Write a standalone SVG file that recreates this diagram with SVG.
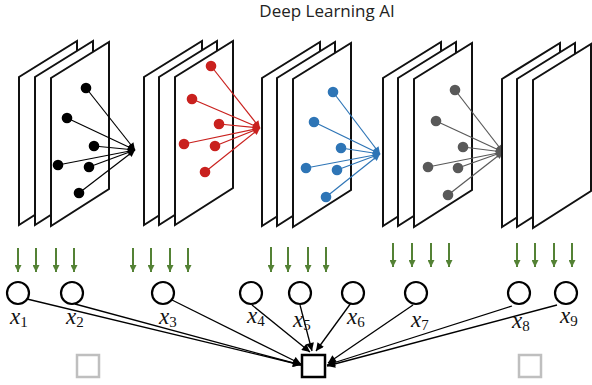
<svg xmlns="http://www.w3.org/2000/svg" width="592" height="385" viewBox="0 0 592 385">
  <defs>
    <style>
      .plane { fill: #ffffff; stroke: #111111; stroke-width: 2; stroke-linejoin: miter; }
      .title { font-family: "Open Sans", "Noto Sans", sans-serif; font-size: 17px; fill: #222222; }
      .lbl { font-family: "Liberation Serif", "DejaVu Serif", serif; font-style: italic; font-size: 23px; fill: #111111; }
      .sub { font-style: normal; font-size: 15px; }
      .node { fill: #ffffff; stroke: #000000; stroke-width: 2.2; }
      .conn { stroke: #000000; stroke-width: 1.3; fill: none; marker-end: url(#ah-black); }
      .feed { stroke: #548235; stroke-width: 2; marker-end: url(#ah-green); }
      .k { stroke: #000000; stroke-width: 1.2; marker-end: url(#tip-k); }
      .r { stroke: #c9211e; stroke-width: 1.2; marker-end: url(#tip-r); }
      .b { stroke: #2e75b6; stroke-width: 1.2; marker-end: url(#tip-b); }
      .g { stroke: #595959; stroke-width: 1.2; marker-end: url(#tip-g); }
    </style>
    <marker id="ah-black" viewBox="0 0 10 10" refX="10" refY="5" markerUnits="userSpaceOnUse" markerWidth="10" markerHeight="8" orient="auto">
      <path d="M0,0 L10,5 L0,10 z" fill="#000000"/>
    </marker>
    <marker id="ah-green" viewBox="0 0 10 10" refX="10" refY="5" markerUnits="userSpaceOnUse" markerWidth="9" markerHeight="7" orient="auto">
      <path d="M0,0 L10,5 L0,10 z" fill="#548235"/>
    </marker>
    <marker id="tip-k" viewBox="0 0 10 10" refX="10" refY="5" markerUnits="userSpaceOnUse" markerWidth="10" markerHeight="7" orient="auto">
      <path d="M0,0 L10,5 L0,10 z" fill="#000000"/>
    </marker>
    <marker id="tip-r" viewBox="0 0 10 10" refX="10" refY="5" markerUnits="userSpaceOnUse" markerWidth="10" markerHeight="7" orient="auto">
      <path d="M0,0 L10,5 L0,10 z" fill="#c9211e"/>
    </marker>
    <marker id="tip-b" viewBox="0 0 10 10" refX="10" refY="5" markerUnits="userSpaceOnUse" markerWidth="10" markerHeight="7" orient="auto">
      <path d="M0,0 L10,5 L0,10 z" fill="#2e75b6"/>
    </marker>
    <marker id="tip-g" viewBox="0 0 10 10" refX="10" refY="5" markerUnits="userSpaceOnUse" markerWidth="10" markerHeight="7" orient="auto">
      <path d="M0,0 L10,5 L0,10 z" fill="#595959"/>
    </marker>
    <!-- one feature-map sheet: a skewed parallelogram -->
    <polygon id="sheet" class="plane" points="0,0 58,-36 58,111 0,148"/>
  </defs>

  <rect width="592" height="385" fill="#ffffff"/>

  <text class="title" x="327" y="17" text-anchor="middle">Deep Learning AI</text>

  <!-- layer 1 -->
  <g id="layer1">
    <use href="#sheet" x="19" y="77"/>
    <use href="#sheet" x="35" y="77"/>
    <use href="#sheet" x="51" y="78"/>
    <g fill="#000000">
      <line class="k" x1="86" y1="88" x2="135" y2="150"/>
      <line class="k" x1="67" y1="118" x2="135" y2="150"/>
      <line class="k" x1="94" y1="146" x2="135" y2="150"/>
      <line class="k" x1="58" y1="165" x2="135" y2="150"/>
      <line class="k" x1="89" y1="167" x2="135" y2="150"/>
      <line class="k" x1="79" y1="193" x2="135" y2="150"/>
      <circle cx="86" cy="88" r="5.3"/>
      <circle cx="67" cy="118" r="5.3"/>
      <circle cx="94" cy="146" r="5.3"/>
      <circle cx="58" cy="165" r="5.3"/>
      <circle cx="89" cy="167" r="5.3"/>
      <circle cx="79" cy="193" r="5.3"/>
    </g>
  </g>

  <!-- layer 2 -->
  <g id="layer2">
    <use href="#sheet" x="144" y="77"/>
    <use href="#sheet" x="159" y="77"/>
    <use href="#sheet" x="175" y="77"/>
    <g fill="#c9211e">
      <line class="r" x1="211" y1="66" x2="260" y2="128"/>
      <line class="r" x1="192" y1="99" x2="260" y2="128"/>
      <line class="r" x1="219" y1="124" x2="260" y2="128"/>
      <line class="r" x1="184" y1="144" x2="260" y2="128"/>
      <line class="r" x1="215" y1="146" x2="260" y2="128"/>
      <line class="r" x1="205" y1="172" x2="260" y2="128"/>
      <circle cx="211" cy="66" r="5.3"/>
      <circle cx="192" cy="99" r="5.3"/>
      <circle cx="219" cy="124" r="5.3"/>
      <circle cx="184" cy="144" r="5.3"/>
      <circle cx="215" cy="146" r="5.3"/>
      <circle cx="205" cy="172" r="5.3"/>
    </g>
  </g>

  <!-- layer 3 -->
  <g id="layer3">
    <use href="#sheet" x="262" y="78"/>
    <use href="#sheet" x="277" y="78"/>
    <use href="#sheet" x="293" y="79"/>
    <g fill="#2e75b6">
      <line class="b" x1="333" y1="92" x2="380" y2="154"/>
      <line class="b" x1="314" y1="122" x2="380" y2="154"/>
      <line class="b" x1="341" y1="148" x2="380" y2="154"/>
      <line class="b" x1="306" y1="168" x2="380" y2="154"/>
      <line class="b" x1="337" y1="170" x2="380" y2="154"/>
      <line class="b" x1="326" y1="197" x2="380" y2="154"/>
      <circle cx="333" cy="92" r="5.3"/>
      <circle cx="314" cy="122" r="5.3"/>
      <circle cx="341" cy="148" r="5.3"/>
      <circle cx="306" cy="168" r="5.3"/>
      <circle cx="337" cy="170" r="5.3"/>
      <circle cx="326" cy="197" r="5.3"/>
    </g>
  </g>

  <!-- layer 4 -->
  <g id="layer4">
    <use href="#sheet" x="383" y="78"/>
    <use href="#sheet" x="398" y="78"/>
    <use href="#sheet" x="414" y="79"/>
    <g fill="#595959">
      <line class="g" x1="455" y1="90" x2="503" y2="152"/>
      <line class="g" x1="436" y1="121" x2="503" y2="152"/>
      <line class="g" x1="463" y1="147" x2="503" y2="152"/>
      <line class="g" x1="428" y1="167" x2="503" y2="152"/>
      <line class="g" x1="458" y1="168" x2="503" y2="152"/>
      <line class="g" x1="448" y1="195" x2="503" y2="152"/>
      <circle cx="455" cy="90" r="5.3"/>
      <circle cx="436" cy="121" r="5.3"/>
      <circle cx="463" cy="147" r="5.3"/>
      <circle cx="428" cy="167" r="5.3"/>
      <circle cx="458" cy="168" r="5.3"/>
      <circle cx="448" cy="195" r="5.3"/>
    </g>
  </g>

  <!-- layer 5 -->
  <g id="layer5">
    <use href="#sheet" x="502" y="79"/>
    <use href="#sheet" x="517" y="79"/>
    <use href="#sheet" x="533" y="80"/>
  </g>

  <!-- feed arrows into the input nodes -->
  <g id="feeds">
    <line class="feed" x1="18" y1="248" x2="18" y2="272"/>
    <line class="feed" x1="36" y1="248" x2="36" y2="272"/>
    <line class="feed" x1="56" y1="248" x2="56" y2="272"/>
    <line class="feed" x1="74" y1="248" x2="74" y2="272"/>
    <line class="feed" x1="133" y1="248" x2="133" y2="272"/>
    <line class="feed" x1="151" y1="248" x2="151" y2="272"/>
    <line class="feed" x1="170" y1="248" x2="170" y2="272"/>
    <line class="feed" x1="188" y1="248" x2="188" y2="272"/>
    <line class="feed" x1="271" y1="247" x2="271" y2="272"/>
    <line class="feed" x1="288" y1="247" x2="288" y2="272"/>
    <line class="feed" x1="308" y1="247" x2="308" y2="272"/>
    <line class="feed" x1="326" y1="247" x2="326" y2="272"/>
    <line class="feed" x1="393" y1="243" x2="393" y2="267"/>
    <line class="feed" x1="412" y1="243" x2="412" y2="267"/>
    <line class="feed" x1="431" y1="243" x2="431" y2="267"/>
    <line class="feed" x1="449" y1="243" x2="449" y2="267"/>
    <line class="feed" x1="517" y1="243" x2="517" y2="267"/>
    <line class="feed" x1="535" y1="243" x2="535" y2="267"/>
    <line class="feed" x1="554" y1="243" x2="554" y2="267"/>
    <line class="feed" x1="572" y1="243" x2="572" y2="267"/>
  </g>

  <!-- connectors from inputs to the output node -->
  <g id="connectors">
    <line class="conn" x1="27" y1="299" x2="301" y2="365"/>
    <line class="conn" x1="75" y1="304" x2="301" y2="365"/>
    <line class="conn" x1="172" y1="300" x2="301" y2="364"/>
    <line class="conn" x1="252" y1="305" x2="310" y2="352"/>
    <line class="conn" x1="300" y1="305" x2="312" y2="351"/>
    <line class="conn" x1="351" y1="303" x2="316" y2="351"/>
    <line class="conn" x1="413" y1="305" x2="328" y2="363"/>
    <line class="conn" x1="512" y1="306" x2="327" y2="365"/>
    <line class="conn" x1="557" y1="305" x2="327" y2="366"/>
  </g>

  <!-- input nodes -->
  <g id="x1"><circle class="node" cx="18" cy="293" r="11"/><text class="lbl" x="10" y="324">x<tspan class="sub" dy="3">1</tspan></text></g>
  <g id="x2"><circle class="node" cx="72" cy="293" r="11"/><text class="lbl" x="66" y="324">x<tspan class="sub" dy="3">2</tspan></text></g>
  <g id="x3"><circle class="node" cx="163" cy="293" r="11"/><text class="lbl" x="159" y="324">x<tspan class="sub" dy="3">3</tspan></text></g>
  <g id="x4"><circle class="node" cx="251" cy="293" r="11"/><text class="lbl" x="247" y="323">x<tspan class="sub" dy="3">4</tspan></text></g>
  <g id="x5"><circle class="node" cx="300" cy="293" r="11"/><text class="lbl" x="293" y="327">x<tspan class="sub" dy="3">5</tspan></text></g>
  <g id="x6"><circle class="node" cx="353" cy="293" r="11"/><text class="lbl" x="347" y="324">x<tspan class="sub" dy="3">6</tspan></text></g>
  <g id="x7"><circle class="node" cx="416" cy="293" r="11"/><text class="lbl" x="411" y="327">x<tspan class="sub" dy="3">7</tspan></text></g>
  <g id="x8"><circle class="node" cx="519" cy="293" r="11"/><text class="lbl" x="512" y="328">x<tspan class="sub" dy="3">8</tspan></text></g>
  <g id="x9"><circle class="node" cx="566" cy="293" r="11"/><text class="lbl" x="560" y="323">x<tspan class="sub" dy="3">9</tspan></text></g>

  <!-- output nodes -->
  <g id="out-left"><rect x="77" y="355" width="22" height="22" fill="#ffffff" stroke="#bfbfbf" stroke-width="2.5"/></g>
  <g id="out-main"><rect x="302" y="355" width="23" height="22" fill="#ffffff" stroke="#000000" stroke-width="2.5"/></g>
  <g id="out-right"><rect x="519" y="355" width="22" height="22" fill="#ffffff" stroke="#bfbfbf" stroke-width="2.5"/></g>
</svg>
